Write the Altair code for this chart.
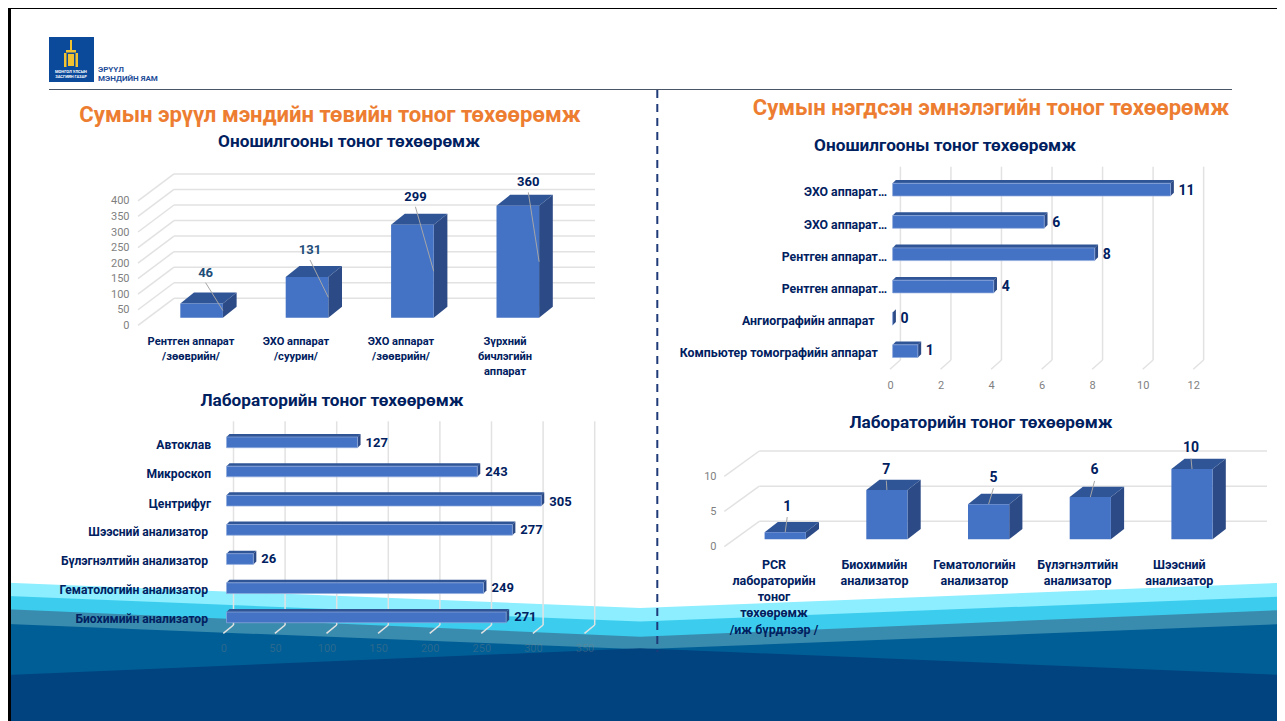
import altair as alt
import pandas as pd

# ---------- data ----------
P1_NAMES = ["Рентген аппарат\n/зөөврийн/", "ЭХО аппарат\n/суурин/", "ЭХО аппарат\n/зөөврийн/", "Зүрхний\nбичлэгийн\nаппарат"]
P1_VALUES = [46, 131, 299, 360]
P1_TICKS = [0, 50, 100, 150, 200, 250, 300, 350, 400]

P2_NAMES = ["ЭХО аппарат…", "ЭХО аппарат…", "Рентген аппарат…", "Рентген аппарат…", "Ангиографийн аппарат", "Компьютер томографийн аппарат"]
P2_VALUES = [11, 6, 8, 4, 0, 1]
P2_TICKS = [0, 2, 4, 6, 8, 10, 12]

P3_NAMES = ["Автоклав", "Микроскоп", "Центрифуг", "Шээсний анализатор", "Бүлэгнэлтийн анализатор", "Гематологийн  анализатор", "Биохимийн анализатор"]
P3_VALUES = [127, 243, 305, 277, 26, 249, 271]
P3_TICKS = [0, 50, 100, 150, 200, 250, 300, 350]

P4_NAMES = ["PCR\nлабораторийн\nтоног\nтөхөөрөмж\n/иж бүрдлээр /", "Биохимийн\nанализатор", "Гематологийн\nанализатор", "Бүлэгнэлтийн\nанализатор", "Шээсний\nанализатор"]
P4_VALUES = [1, 7, 5, 6, 10]
P4_TICKS = [0, 5, 10]

# ---------- style ----------
W, H = 1269, 713
FONT = "Roboto"
NAVY = "#002060"
FRONT, SIDE, TOP = "#4472C4", "#2C4A85", "#2F5597"
GRID = "#E2E2E2"
AXISC = "#7F7F7F"


def R(px):
    return px - 8


def sc(d0, d1, r0, r1):
    return alt.Scale(type="linear", domain=[d0, d1], range=[R(r0), R(r1)], nice=False, zero=False, clamp=False)


PAGE_X = sc(8, 1277, 8, 1277)
PAGE_Y = sc(8, 721, 8, 721)


def xe(field, scale, axis=None):
    return alt.X(field, type="quantitative", scale=scale, axis=axis, title=None)


def ye(field, scale, axis=None):
    return alt.Y(field, type="quantitative", scale=scale, axis=axis, title=None)


def rule(rows, xs, ys, color=GRID, width=1.5, axis_x=None, axis_y=None, dash=None):
    df = pd.DataFrame(rows)
    kw = dict(color=color, strokeWidth=width)
    if dash:
        kw["strokeDash"] = dash
    return alt.Chart(df).mark_rule(**kw).encode(
        x=xe("x", xs, axis_x), x2="x2:Q", y=ye("y", ys, axis_y), y2="y2:Q")


def rect(rows, color, xs=PAGE_X, ys=PAGE_Y, stroke=None):
    df = pd.DataFrame(rows)
    kw = dict(color=color)
    if stroke:
        kw.update(stroke=stroke, strokeWidth=0.7)
    return alt.Chart(df).mark_bar(**kw).encode(
        x=xe("x", xs), x2="x2:Q", y=ye("y", ys), y2="y2:Q")


def side_face(rows, xs, ys, color):
    return alt.Chart(pd.DataFrame(rows)).mark_area(orient="vertical", color=color, opacity=1).encode(
        x=xe("x", xs), y=ye("y", ys), y2="y2:Q", detail="b:N")


def top_face(rows, xs, ys, color):
    return alt.Chart(pd.DataFrame(rows)).mark_area(orient="horizontal", color=color, opacity=1).encode(
        y=ye("y", ys), x=xe("x", xs), x2="x2:Q", detail="b:N")


def text(rows, xs, ys, size, color=NAVY, align="center", baseline="middle", weight="bold", dx=0, line=None, opacity=1):
    kw = dict(fontSize=size, font=FONT, fontWeight=weight, align=align, baseline=baseline, dx=dx, opacity=opacity)
    if line:
        kw.update(lineBreak="\n", lineHeight=line)
    df = pd.DataFrame(rows)
    enc = dict(x=xe("x", xs), y=ye("y", ys), text="t:N")
    if "c" in df.columns:
        enc["color"] = alt.Color("c:N", scale=None)
    else:
        kw["color"] = color
    return alt.Chart(df).mark_text(**kw).encode(**enc)


def vpanel(names, values, ticks, vmax, x0, step, bw, y0, ppu, ddx, ddy,
           wall_x0, wall_x1, wall_y0, diag_dx, diag_dy, axis_right,
           label_off, label_colors, val_size, leader_gap,
           cat_pos, cat_first_y, cat_size, cat_line):
    xs = sc(0, 1, x0, x0 + step)
    ys = sc(0, vmax, y0, y0 - vmax * ppu)
    wall_ys = sc(0, vmax, wall_y0, wall_y0 - vmax * ppu)
    axis_ys = sc(0, vmax, wall_y0 + diag_dy, wall_y0 + diag_dy - vmax * ppu)
    wu, dxu, dyu = bw / step, ddx / step, ddy / ppu
    out = []
    out.append(rule([dict(x=wall_x0, x2=wall_x1, y=t, y2=t) for t in ticks], PAGE_X, wall_ys))
    ax = alt.Axis(orient="left", values=ticks, offset=-R(axis_right), domain=False, ticks=False, grid=False,
                  labelColor=AXISC, labelFontSize=11, labelFont=FONT, labelPadding=0, labelBaseline="middle",
                  labelFlush=False, labelOverlap=False, zindex=1, title=None)
    out.append(rule([dict(x=wall_x0, x2=wall_x0 + diag_dx, y=t + diag_dy / ppu, y2=t) for t in ticks],
                    PAGE_X, axis_ys, axis_y=ax))
    side, top, front = [], [], []
    for i, v in enumerate(values):
        front.append(dict(x=i, x2=i + wu, y=v, y2=0))
        side += [dict(b=i, x=i + wu, y=v, y2=0), dict(b=i, x=i + wu + dxu, y=v + dyu, y2=dyu)]
        top += [dict(b=i, y=v, x=i, x2=i + wu), dict(b=i, y=v + dyu, x=i + dxu, x2=i + wu + dxu)]
    out += [side_face(side, xs, ys, SIDE), top_face(top, xs, ys, TOP), rect(front, FRONT, xs, ys)]
    lab, lead = [], []
    for i, v in enumerate(values):
        ox, oy, ex, ey = label_off[i]
        lx = i + wu / 2 + ox / step
        ly = v + oy / ppu
        lab.append(dict(x=lx, y=ly, t=str(v), c=label_colors[i]))
        lead.append(dict(x=lx, y=ly + leader_gap / ppu, x2=i + ex * wu, y2=v * ey))
    out.append(rule(lead, xs, ys, color="#A6A6A6", width=1))
    out.append(text(lab, xs, ys, val_size))
    cats = [dict(x=cat_pos[i], y=cat_first_y - cat_size * 0.5, t=n) for i, n in enumerate(names)]
    out.append(text(cats, PAGE_X, PAGE_Y, cat_size, baseline="top", line=cat_line))
    return out


def hpanel(names, values, ticks, x0, ppu, y0, step, bh, ddx, ddy,
           wall_x0, wall_y0, wall_y1, diag_dx, diag_dy, axis_x0, axis_y,
           label_ends, label_ys, val_ys, cat_size, val_size, tick_opacity, vmax):
    xs = sc(0, vmax, x0, x0 + vmax * ppu)
    ys = sc(0, 1, y0, y0 + step)
    wall_xs = sc(0, vmax, wall_x0, wall_x0 + vmax * ppu)
    axis_xs = sc(0, vmax, axis_x0, axis_x0 + vmax * ppu)
    hu, dxu, dyu = bh / step, ddx / ppu, ddy / step
    out = []
    out.append(rule([dict(x=t, x2=t, y=wall_y0, y2=wall_y1) for t in ticks], wall_xs, PAGE_Y))
    ax = alt.Axis(orient="bottom", values=ticks, offset=-(H - R(axis_y)), domain=False, ticks=False, grid=False,
                  labelColor=AXISC, labelOpacity=tick_opacity, labelFontSize=11, labelFont=FONT, labelPadding=0,
                  labelBaseline="middle", labelFlush=False, labelOverlap=False, zindex=1, title=None)
    out.append(rule([dict(x=t, x2=t + (wall_x0 - axis_x0) / ppu, y=wall_y1 + diag_dy, y2=wall_y1) for t in ticks],
                    axis_xs, PAGE_Y, axis_x=ax))
    side, top, front = [], [], []
    for i, v in enumerate(values):
        front.append(dict(x=0, x2=v, y=i, y2=i + hu))
        side += [dict(b=i, x=v, y=i, y2=i + hu), dict(b=i, x=v + dxu, y=i - dyu, y2=i + hu - dyu)]
        top += [dict(b=i, y=i - dyu, x=dxu, x2=v + dxu), dict(b=i, y=i, x=0, x2=v)]
    out += [top_face(top, xs, ys, TOP), side_face(side, xs, ys, SIDE), rect(front, FRONT, xs, ys, stroke="#8FAADC")]
    out.append(text([dict(x=v, y=(val_ys[i] - y0) / step, t=str(v)) for i, v in enumerate(values)],
                    xs, ys, val_size, align="left", dx=8))
    out.append(text([dict(x=label_ends[i], y=label_ys[i], t=n) for i, n in enumerate(names)],
                    PAGE_X, PAGE_Y, cat_size, align="right"))
    return out


layers = []

# ---------- decoration: slide frame, waves, header ----------
WAVE_X = [8, 640, 1277]
WAVES = [("#8CEEFF", [582.7, 608, 583]),
         ("#3CCDEE", [596, 621.5, 596.8]),
         ("#3A8CAE", [609.3, 636.7, 610.3]),
         ("#005E96", [624, 649.3, 624.3]),
         ("#00437F", [675, 648.3, 674.7])]
for col, ys_ in WAVES:
    d = pd.DataFrame(dict(x=WAVE_X, y=ys_, y2=[721, 721, 721]))
    layers.append(alt.Chart(d).mark_area(orient="vertical", color=col, opacity=1).encode(
        x=xe("x", PAGE_X), y=ye("y", PAGE_Y), y2="y2:Q"))

layers.append(rect([dict(x=8, x2=11, y=8, y2=721), dict(x=8, x2=1277, y=8, y2=9)], "#000000"))
layers.append(rect([dict(x=49, x2=94, y=37, y2=82)], "#0B4A9B"))
layers.append(rect([dict(x=70, x2=72, y=40, y2=50), dict(x=66, x2=76, y=50, y2=52.5),
                    dict(x=64, x2=66.5, y=53, y2=67), dict(x=75.5, x2=78, y=53, y2=67),
                    dict(x=68, x2=74, y=54, y2=66)], "#F2C230"))
layers.append(text([dict(x=71, y=71.5, t="МОНГОЛ УЛСЫН"), dict(x=71, y=76.5, t="ЗАСГИЙН ГАЗАР")],
                   PAGE_X, PAGE_Y, 4, color="#FFFFFF"))
layers.append(text([dict(x=98, y=69.5, t="ЭРҮҮЛ"), dict(x=98, y=78.5, t="МЭНДИЙН ЯАМ")],
                   PAGE_X, PAGE_Y, 8, color="#1F4E99", align="left"))
layers.append(rule([dict(x=49, x2=1232, y=89.5, y2=89.5)], PAGE_X, PAGE_Y, color="#4A5568", width=1))
layers.append(rule([dict(x=657.3, x2=657.3, y=90, y2=652)], PAGE_X, PAGE_Y, color="#1F3A78", width=2, dash=[8, 6]))

# ---------- titles ----------
layers.append(text([dict(x=330, y=115, t="Сумын эрүүл мэндийн төвийн тоног төхөөрөмж"),
                    dict(x=991, y=108, t="Сумын нэгдсэн эмнэлэгийн  тоног төхөөрөмж")],
                   PAGE_X, PAGE_Y, 22.1, color="#ED7D31"))
layers.append(text([dict(x=349, y=142, t="Оношилгооны тоног төхөөрөмж"),
                    dict(x=945, y=146, t="Оношилгооны тоног төхөөрөмж"),
                    dict(x=332, y=401, t="Лабораторийн тоног төхөөрөмж"),
                    dict(x=981, y=423, t="Лабораторийн тоног төхөөрөмж")],
                   PAGE_X, PAGE_Y, 17.2))

# ---------- panels ----------
layers += vpanel(P1_NAMES, P1_VALUES, P1_TICKS, 400, 180.3, 105.4, 42.6, 317.7, 0.311, 13.7, 11,
                 174, 595, 298.3, -36, 27, 129,
                 [(4, 30.7, 1, 0.5), (3, 27, 1, 0.5), (3, 28, 1, 0.5), (10.5, 23.4, 1, 0.5)],
                 ["#1F4E79", "#1F4E79", NAVY, NAVY], 13, -10,
                 [191, 296, 401, 505], 342, 11.1, 15)
layers += hpanel(P2_NAMES, P2_VALUES, P2_TICKS, 892.6, 25.27, 183.3, 32.3, 12.7, 3.3, 3.3,
                 900.4, 166.7, 360, -11.5, 9.3, 890, 385,
                 [887, 887, 887, 887, 874.5, 877.8], [192, 224.5, 257, 289, 321, 353],
                 [191, 223, 255, 287, 319, 351], 12.3, 14, 1, 12)
layers += hpanel(P3_NAMES, P3_VALUES, P3_TICKS, 226.5, 1.032, 437, 29.17, 10.7, 3, 3,
                 233.5, 421.3, 625, -11, 8.3, 223.3, 648.3,
                 [211, 211, 211, 208, 208, 208, 208], [445, 473.5, 503.5, 532, 561, 590, 619],
                 [443, 472, 501.5, 530, 559, 588, 617], 12.1, 13, 0.35, 350)
layers += vpanel(P4_NAMES, P4_VALUES, P4_TICKS, 10, 764.6, 101.7, 41.2, 539.3, 7.03, 13.2, 10.3,
                 759.3, 1267, 521.3, -35, 25.3, 716,
                 [(2, 25.7, 0.5, 1), (-0.6, 20, 0.5, 1), (4.8, 26.4, 0.5, 1), (4.3, 26.7, 0.5, 1), (-1, 21, 0.5, 1)],
                 [NAVY] * 5, 14, -10.5,
                 [774, 874.5, 974.4, 1077.7, 1179.3], 565, 12.5, 16.2)

chart = (
    alt.layer(*layers)
    .resolve_scale(x="independent", y="independent")
    .properties(width=W, height=H, padding=0, background="white",
                autosize=alt.AutoSizeParams(type="none"))
    .configure_view(stroke=None)
)
chart.save("out.html", embed_options={"renderer": "svg", "actions": False})
